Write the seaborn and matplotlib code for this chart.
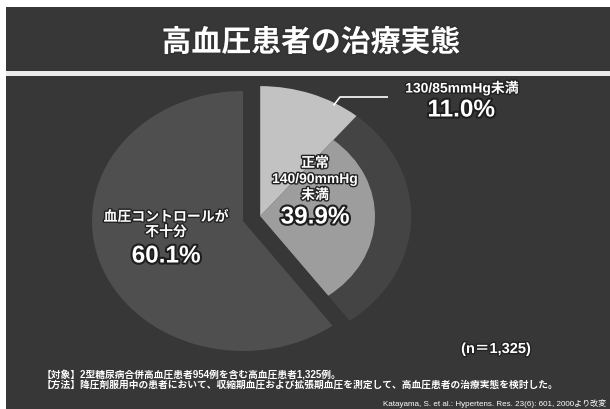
import numpy as np
import matplotlib
matplotlib.use("Agg")
import matplotlib.pyplot as plt
import matplotlib.patheffects as pe
from matplotlib.patches import Rectangle
import seaborn as sns

# ---------------- data ----------------
title = "高血圧患者の治療実態"
categories = ["血圧コントロールが\n不十分", "正常\n140/90mmHg\n未満"]
shares = [60.1, 39.9]                 # % of all patients
sub_category = "130/85mmHg未満"
sub_share = 11.0                      # % of all patients, part of the controlled group
sample_label = "(n＝1,325)"
notes = [
    "【対象】2型糖尿病合併高血圧患者954例を含む高血圧患者1,325例。",
    "【方法】降圧剤服用中の患者において、収縮期血圧および拡張期血圧を測定して、高血圧患者の治療実態を検討した。",
]
source = "Katayama, S. et al.: Hypertens. Res. 23(6): 601, 2000より改変"

# ---------------- style ----------------
sns.set_theme(style="dark")
plt.rcParams["font.family"] = ["Liberation Sans", "Noto Sans CJK JP", "DejaVu Sans"]

BODY = "#373737"
UNCONTROLLED = "#4f4f4f"
SLICE_BASE = "#444444"
CONTROLLED = "#9d9d9d"
STRICT = "#c2c2c2"
band_cmap = sns.blend_palette(["#5c5c5c", "#4c4c4c"], as_cmap=True)

W, H = 610, 410
fig = plt.figure(figsize=(W / 100, H / 100), dpi=100)
fig.patch.set_facecolor("white")

# slide background (pixel coordinates)
bg = fig.add_axes([0, 0, 1, 1])
bg.add_patch(Rectangle((6, 8), W - 6, H - 8, color=BODY, lw=0))
bg.imshow(np.linspace(0, 1, 64)[:, None], extent=(6, W, 71, 8),
          cmap=band_cmap, aspect="auto", interpolation="bilinear")
bg.add_patch(Rectangle((6, 72), W - 6, 5, color="#ececec", lw=0))
bg.set_xlim(0, W)
bg.set_ylim(H, 0)
bg.axis("off")

# pie axes: unit radius maps to an ellipse of RX x RY pixels around (CX, CY)
CX, CY, RX, RY = 243, 222, 151, 130
ax = fig.add_axes([0, 0, 1, 1])
ax.patch.set_alpha(0)

explode = 0.12
ax.pie(shares, startangle=90, counterclock=True, radius=1.0,
       explode=[0, explode], colors=[UNCONTROLLED, SLICE_BASE],
       wedgeprops=dict(linewidth=0))

# shift shared by the pulled-out slice and its breakdown
mid = np.deg2rad(90 + 360 * shares[0] / 100 + 360 * shares[1] / 200)
off = (explode * np.cos(mid), explode * np.sin(mid))

breakdown = [sub_share, shares[1] - sub_share, shares[0]]
ax.pie(breakdown, startangle=90, counterclock=False, radius=1.0, center=off,
       colors=[STRICT, "none", "none"], wedgeprops=dict(linewidth=0))
ax.pie(breakdown, startangle=90, counterclock=False, radius=0.76, center=off,
       colors=["none", CONTROLLED, "none"], wedgeprops=dict(linewidth=0))

ax.set_aspect("auto")
ax.set_xlim(-CX / RX, (W - CX) / RX)
ax.set_ylim(-(H - CY) / RY, CY / RY)
ax.axis("off")


def to_data(px, py):
    return (px - CX) / RX, (CY - py) / RY


# leader line from the strict-control wedge to its label
ang = np.deg2rad(90 - 0.75 * 360 * sub_share / 100)
start = (off[0] + 0.98 * np.cos(ang), off[1] + 0.98 * np.sin(ang))
elbow = to_data(340, 98)
end = to_data(388, 98)
ax.plot([start[0], elbow[0], end[0]], [start[1], elbow[1], end[1]],
        color="white", lw=1.2, solid_capstyle="butt")

# ---------------- text ----------------
outline = [pe.withStroke(linewidth=2, foreground="#222222")]
outline_big = [pe.withStroke(linewidth=3, foreground="#1e1e1e")]


def put(x, y, s, size, weight="bold", ha="center", effects=None, **kw):
    fig.text(x / W, 1 - y / H, s, fontsize=size, fontweight=weight,
             color="white", ha=ha, va="center", path_effects=effects, **kw)


put(311, 44, title, 21.5, effects=[pe.withStroke(linewidth=2.5, foreground="#333333")])

# uncontrolled group
for i, line in enumerate(categories[0].split("\n")):
    put(166, 218 + 15 * i, line, 10, effects=outline)
put(166, 257, f"{shares[0]:.1f}%", 17.5, effects=outline_big)

# controlled group
for i, line in enumerate(categories[1].split("\n")):
    put(315, 164 + 16 * i, line, 10, effects=outline)
put(315, 218, f"{shares[1]:.1f}%", 17.5, effects=outline_big)

# strict-control subgroup
put(462, 89, sub_category, 10, effects=outline)
put(461, 111, f"{sub_share:.1f}%", 17.5, effects=outline_big)

put(496, 350, sample_label, 10.5, effects=outline)

for i, line in enumerate(notes):
    put(42, 375 + 10 * i, line, 7, ha="left")
put(606, 404, source, 5.8, weight="normal", ha="right")

fig.savefig("out.png", dpi=100, facecolor=fig.get_facecolor())
